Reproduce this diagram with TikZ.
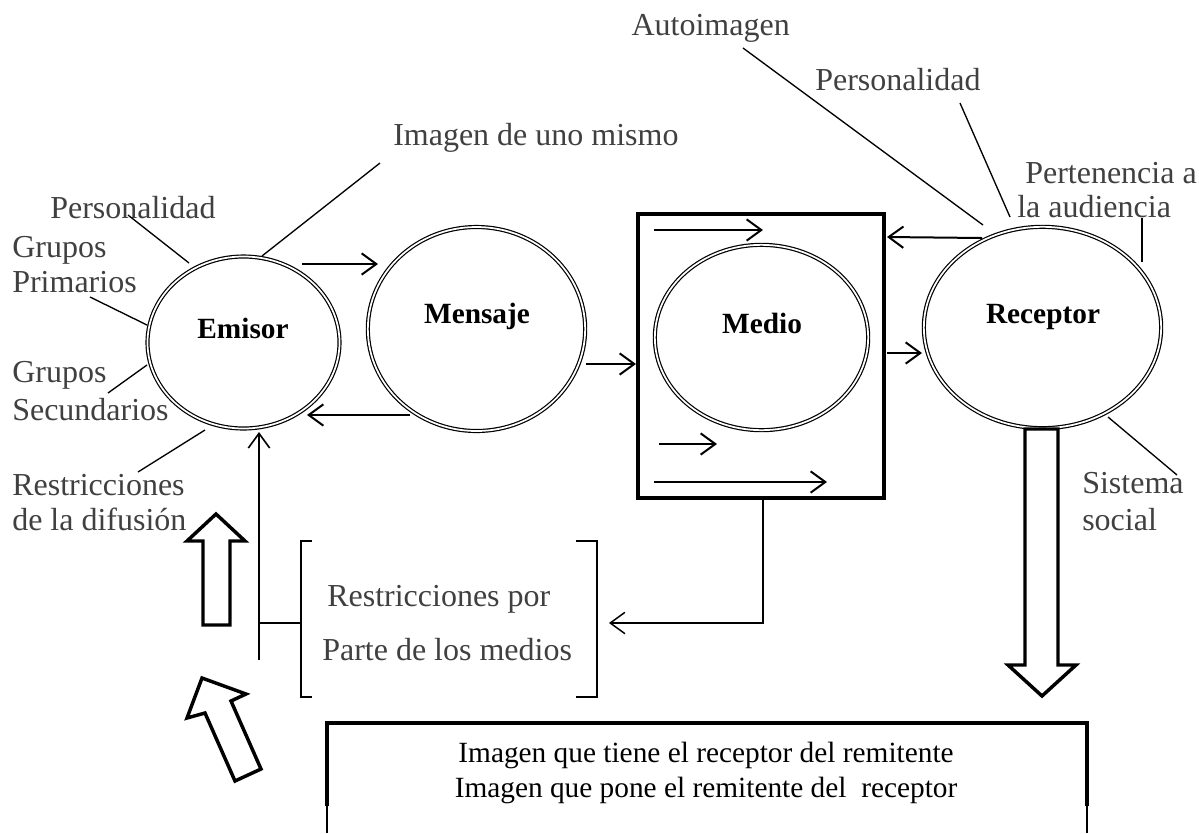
\documentclass[tikz,border=0pt]{standalone}
\usepackage{fontspec}
\setmainfont{Liberation Serif}
\usetikzlibrary{arrows.meta,shapes.geometric}
\definecolor{lbl}{RGB}{64,64,64}
\begin{document}
\begin{tikzpicture}[x=0.75pt,y=-0.75pt,
 lab/.style={text=lbl,font=\fontsize{24}{28}\selectfont,inner sep=0pt},
 boldlab/.style={font=\fontsize{22}{26}\selectfont\bfseries,inner sep=0pt,anchor=base},
 bottomtxt/.style={font=\fontsize{22}{26}\selectfont,inner sep=0pt,anchor=base},
 ell/.style={draw,ellipse,double,line width=0.9pt,double distance=1.3pt,inner sep=0pt},
 con/.style={line width=1.5pt,-{Straight Barb[length=11pt,width=16pt]}},
 thinline/.style={line width=1pt},
 block/.style={draw,line width=2.6pt,line join=miter,fill=white},
]
\useasboundingbox (0,0) rectangle (1199,833);

% ellipses
\node[ell,minimum width=144pt,minimum height=129pt] (emisor) at (243.5,342.5) {};
\node[ell,minimum width=163pt,minimum height=153pt] (mensaje) at (476.5,329) {};
\node[draw,line width=3pt,minimum width=184.5pt,minimum height=213pt,inner sep=0pt] (mediobox) at (761,356) {};
\node[ell,minimum width=160pt,minimum height=139pt] (medio) at (761.5,337.5) {};
\node[ell,minimum width=178pt,minimum height=151pt] (receptor) at (1042.5,327.5) {};

\node[boldlab] (temisor) at (243,338) {Emisor};
\node[boldlab] (tmensaje) at (477,323) {Mensaje};
\node[boldlab] (tmedio) at (762,333) {Medio};
\node[boldlab] (treceptor) at (1043,323) {Receptor};

% labels
\node[lab,anchor=base east] (lauto) at (790,35) {Autoimagen};
\node[lab,anchor=base west] (lpersr) at (815,90) {Personalidad};
\node[lab,anchor=base west] (limagen) at (393,145) {Imagen de uno mismo};
\node[lab,anchor=base west] (lpersl) at (50,218) {Personalidad};
\node[lab,anchor=base west] (lgp1) at (12,257) {Grupos};
\node[lab,anchor=base west] (lgp2) at (12,292) {Primarios};
\node[lab,anchor=base west] (lgs1) at (12,382) {Grupos};
\node[lab,anchor=base west] (lgs2) at (12,420) {Secundarios};
\node[lab,anchor=base west] (lrd1) at (12,495) {Restricciones};
\node[lab,anchor=base west] (lrd2) at (12,530) {de la difusi\'on};
\node[lab,anchor=base west] (lpa1) at (1025,183) {Pertenencia a};
\node[lab,anchor=base west] (lpa2) at (1017,217) {la audiencia};
\node[lab,anchor=base west] (lss1) at (1082,493) {Sistema};
\node[lab,anchor=base west] (lss2) at (1082,530) {social};
\node[lab,anchor=base west] (lrm1) at (327,606) {Restricciones por};
\node[lab,anchor=base west] (lrm2) at (322,660) {Parte de los medios};

% label lines
\draw[thinline] (128,215) -- (189,263);
\draw[thinline] (90,297) -- (147,325);
\draw[thinline] (108,393) -- (147,365);
\draw[thinline] (138,472) -- (205,430);
\draw[thinline] (262,256) -- (380,163);
\draw[thinline] (743,48) -- (983,225);
\draw[thinline] (960,103) -- (1010,217);
\draw[thinline] (1142,218) -- (1142,262);
\draw[thinline] (1108,417) -- (1177,475);

% connectors
\coordinate (a1s) at (302,264); \coordinate (a1e) at (378,264);
\draw[con] (a1s) -- (a1e);
\coordinate (a2s) at (410,415); \coordinate (a2e) at (307,415);
\draw[con] (a2s) -- (a2e);
\coordinate (a3s) at (586,364); \coordinate (a3e) at (636,364);
\draw[con] (a3s) -- (a3e);
\coordinate (m1s) at (654,230); \coordinate (m1e) at (763,230);
\draw[con] (m1s) -- (m1e);
\coordinate (m2s) at (659,444); \coordinate (m2e) at (717,444);
\draw[con] (m2s) -- (m2e);
\coordinate (m3s) at (654,482); \coordinate (m3e) at (827,482);
\draw[con] (m3s) -- (m3e);
\coordinate (r1s) at (982,238); \coordinate (r1e) at (887,237);
\draw[con] (r1s) -- (r1e);
\coordinate (r2s) at (887,353); \coordinate (r2e) at (922,353);
\draw[con] (r2s) -- (r2e);
\coordinate (upS) at (259,660); \coordinate (upE) at (259,432);
\draw[con,line width=1.2pt] (upS) -- (upE);
\coordinate (brL) at (301,623);
\draw[thinline] (259,623) -- (brL);
\coordinate (mbS) at (763,500); \coordinate (brR) at (609,623);
\draw[con,line width=1.1pt] (mbS) |- (brR);

% brackets
\draw[thinline] (312,541) -- (301,541) -- (301,697) -- (312,697);
\draw[thinline] (576,541) -- (597,541) -- (597,697) -- (576,697);

% block arrows
\draw[block] (203,625) -- (203,541) -- (187,541) -- (216,514) -- (245,541) -- (230,541) -- (230,625) -- cycle;
\draw[block] (202,678) -- (246,694) -- (231,701) -- (261,769) -- (235,781) -- (205,713) -- (187,718) -- cycle;
\draw[block] (1025,429) -- (1025,665) -- (1008,665) -- (1042,696) -- (1076,665) -- (1058,665) -- (1058,429) -- cycle;

% bottom box
\draw[line width=2.4pt] (327,806) -- (327,723) -- (1087,723) -- (1087,806);
\draw[line width=0.9pt] (327,806) -- (327,833);
\draw[line width=0.9pt] (1087,806) -- (1087,833);
\node[bottomtxt] (b1) at (706,762) {Imagen que tiene el receptor del remitente};
\node[bottomtxt] (b2) at (706,797) {Imagen que pone el remitente del\ \ receptor};
\end{tikzpicture}
\end{document}
